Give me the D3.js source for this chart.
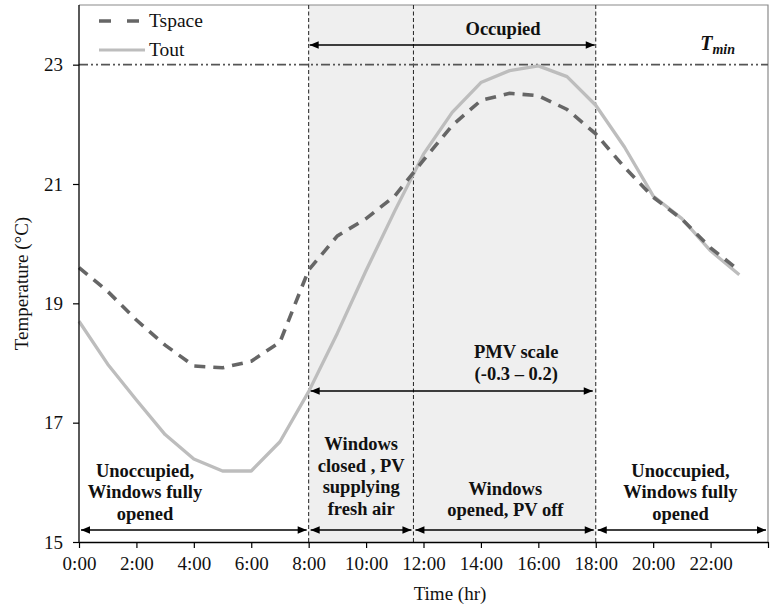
<!DOCTYPE html>
<html>
<head>
<meta charset="utf-8">
<script src="https://cdn.jsdelivr.net/npm/d3@7"></script>
<style>
  html, body { margin: 0; padding: 0; background: #fff; }
  svg { display: block; }
  text { font-family: "Liberation Serif", "Times New Roman", serif; fill: #111; }
</style>
</head>
<body>
<svg id="chart" width="775" height="613"></svg>
<script>
// ---------------- data ----------------
const hours  = [0,1,2,3,4,5,6,7,8,9,10,11,12,13,14,15,16,17,18,19,20,21,22,23];
const tspace = [19.6,19.2,18.72,18.3,17.95,17.92,18.03,18.35,19.56,20.13,20.42,20.8,21.4,21.98,22.4,22.52,22.48,22.25,21.84,21.28,20.78,20.41,19.93,19.55];
const tout   = [18.7,17.98,17.38,16.8,16.39,16.19,16.19,16.68,17.52,18.5,19.55,20.55,21.5,22.2,22.7,22.9,22.98,22.8,22.32,21.62,20.8,20.42,19.88,19.48];
const xTickValues = [0,2,4,6,8,10,12,14,16,18,20,22,24];
const xTickLabels = ["0:00","2:00","4:00","6:00","8:00","10:00","12:00","14:00","16:00","18:00","20:00","22:00",""];
const yTickValues = [15,17,19,21,23];
const tMin = 23;
const occupiedSpan = [8, 18];
const dividers = [8, 11.65, 18];
const bottomSpans = [[0, 8], [8, 11.65], [11.65, 18], [18, 24]];
const pmvSpan = [8, 18];
const seriesNames = ["Tspace", "Tout"];

// ---------------- layout ----------------
const svg = d3.select("#chart");
const W = 775, H = 613;
const x = d3.scaleLinear().domain([0, 24]).range([79, 768]);
const y = d3.scaleLinear().domain([15, 24]).range([542, 5]);
const LH = 21.5;

svg.append("rect").attr("width", W).attr("height", H).attr("fill", "#fff");

// arrow markers
const defs = svg.append("defs");
defs.append("marker")
  .attr("id", "ah").attr("viewBox", "0 -5 10 10")
  .attr("refX", 10).attr("refY", 0)
  .attr("markerUnits", "userSpaceOnUse")
  .attr("markerWidth", 10).attr("markerHeight", 9)
  .attr("orient", "auto-start-reverse")
  .append("path").attr("d", "M0,-4.2L10,0L0,4.2Z").attr("fill", "#000");

// shaded occupied region
svg.append("rect")
  .attr("x", x(occupiedSpan[0])).attr("y", y(24))
  .attr("width", x(occupiedSpan[1]) - x(occupiedSpan[0]))
  .attr("height", y(15) - y(24))
  .attr("fill", "#efefef");

// frame (top/right)
svg.append("path")
  .attr("d", `M${x(0)},${y(24)}H${x(24)}V${y(15)}`)
  .attr("fill", "none").attr("stroke", "#8a8a8a").attr("stroke-width", 1.2);

// vertical dividers
svg.selectAll("line.div").data(dividers).enter().append("line")
  .attr("x1", d => x(d)).attr("x2", d => x(d))
  .attr("y1", y(24)).attr("y2", y(15))
  .attr("stroke", "#222").attr("stroke-width", 1)
  .attr("stroke-dasharray", "4,2.5");

// Tmin line
svg.append("line")
  .attr("x1", x(0)).attr("x2", x(24))
  .attr("y1", y(tMin)).attr("y2", y(tMin))
  .attr("stroke", "#555").attr("stroke-width", 1.6)
  .attr("stroke-dasharray", "9,3,2,3,2,3");

// series
const line = (vals) => d3.line().x((d, i) => x(hours[i])).y(d => y(d))(vals);
svg.append("path").attr("d", line(tout))
  .attr("fill", "none").attr("stroke", "#bdbdbd").attr("stroke-width", 3.3)
  .attr("stroke-linejoin", "round");
svg.append("path").attr("d", line(tspace))
  .attr("fill", "none").attr("stroke", "#666").attr("stroke-width", 3.6)
  .attr("stroke-dasharray", "11,8");

// arrows
function arrow(x1, x2, yy) {
  svg.append("line")
    .attr("x1", x1).attr("x2", x2).attr("y1", yy).attr("y2", yy)
    .attr("stroke", "#000").attr("stroke-width", 1.5)
    .attr("marker-start", "url(#ah)").attr("marker-end", "url(#ah)");
}
arrow(x(occupiedSpan[0]) + 1, x(occupiedSpan[1]) - 1, y(23.33));
arrow(x(pmvSpan[0]) + 2, x(pmvSpan[1]) - 3, y(17.53));
bottomSpans.forEach(s => arrow(x(s[0]) + 2, x(s[1]) - 2, y(15.2)));

// annotation texts
function block(lines, hx, t0) {
  const t = svg.append("text")
    .attr("text-anchor", "middle")
    .attr("font-weight", "bold").attr("font-size", 18.5);
  lines.forEach((s, i) => {
    t.append("tspan").attr("x", x(hx)).attr("y", y(t0) + i * LH).text(s);
  });
}
block(["Occupied"], 14.77, 23.5);
block(["PMV scale", "(-0.3 \u2013 0.2)"], 15.23, 18.08);
block(["Unoccupied,", "Windows fully", "opened"], 2.3, 16.09);
block(["Windows", "closed , PV", "supplying", "fresh air"], 9.83, 16.54);
block(["Windows", "opened, PV off"], 14.85, 15.79);
block(["Unoccupied,", "Windows fully", "opened"], 20.95, 16.09);

// Tmin label
const tm = svg.append("text")
  .attr("x", x(21.64)).attr("y", y(23.25))
  .attr("font-weight", "bold").attr("font-style", "italic").attr("font-size", 20);
tm.append("tspan").text("T");
tm.append("tspan").attr("font-size", 14).attr("dy", 4).text("min");

// axes
const yAxis = svg.append("g").attr("transform", `translate(${x(0)},0)`)
  .call(d3.axisLeft(y).tickValues(yTickValues).tickSize(6).tickSizeOuter(0).tickPadding(10));
const xAxis = svg.append("g").attr("transform", `translate(0,${y(15)})`)
  .call(d3.axisBottom(x).tickValues(xTickValues).tickSize(6).tickSizeOuter(0).tickPadding(9)
    .tickFormat((d, i) => xTickLabels[i]));
[yAxis, xAxis].forEach(g => {
  g.select(".domain").attr("stroke", "#000").attr("stroke-width", 1.3);
  g.selectAll(".tick line").attr("stroke", "#000").attr("stroke-width", 1.2);
  g.selectAll(".tick text").attr("font-size", 19).attr("fill", "#111")
    .attr("font-family", "'Liberation Serif', 'Times New Roman', serif");
});
yAxis.select(".domain").attr("d", `M0,${y(24)}V${y(15)}`);

// axis titles
svg.append("text")
  .attr("transform", `translate(28,${(y(15) + y(24)) / 2 + 10}) rotate(-90)`)
  .attr("text-anchor", "middle").attr("font-size", 19)
  .text("Temperature (\u00B0C)");
svg.append("text")
  .attr("x", 450).attr("y", 600)
  .attr("text-anchor", "middle").attr("font-size", 19)
  .text("Time (hr)");

// legend
const leg = svg.append("g");
leg.append("line").attr("x1", 99).attr("x2", 141).attr("y1", 21).attr("y2", 21)
  .attr("stroke", "#666").attr("stroke-width", 3.6).attr("stroke-dasharray", "12,16");
leg.append("text").attr("x", 149).attr("y", 27).attr("font-size", 19.5).attr("fill", "#222").text(seriesNames[0]);
leg.append("line").attr("x1", 99).attr("x2", 145).attr("y1", 50).attr("y2", 50)
  .attr("stroke", "#bdbdbd").attr("stroke-width", 3.2);
leg.append("text").attr("x", 149).attr("y", 56).attr("font-size", 19.5).attr("fill", "#222").text(seriesNames[1]);
</script>
</body>
</html>
